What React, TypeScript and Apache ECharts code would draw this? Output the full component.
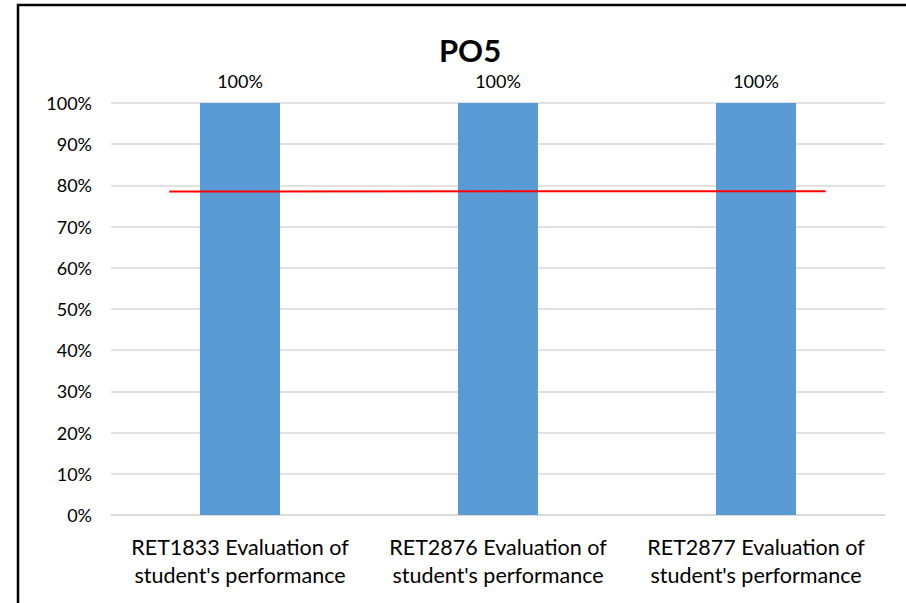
import React, { useEffect, useRef } from "react";
import * as echarts from "echarts";

const categories = [
  "RET1833 Evaluation of\nstudent's performance",
  "RET2876 Evaluation of\nstudent's performance",
  "RET2877 Evaluation of\nstudent's performance",
];
const barValues = [1, 1, 1];
const targetX = [0.226, 2.77];
const targetY = [0.785, 0.786];
const titleText = "PO5";

const FONT = "Lato";

export default function App() {
  const ref = useRef<HTMLDivElement>(null);
  useEffect(() => {
    if (!ref.current) return;
    const chart = echarts.init(ref.current, null, { renderer: "svg" });
    chart.setOption({
      animation: false,
      backgroundColor: "#fff",
      title: {
        text: titleText,
        left: 465,
        top: 29,
        textAlign: "center",
        textStyle: { fontFamily: FONT, fontWeight: "bold", fontSize: 31, color: "#000" },
      },
      grid: { left: 111, right: 21, top: 103, bottom: 88, containLabel: false },
      xAxis: [
        {
          type: "category",
          data: categories,
          axisTick: { show: false },
          axisLine: { lineStyle: { color: "#D9D9D9", width: 1.5 } },
          axisLabel: {
            margin: 18,
            color: "#000",
            fontFamily: FONT,
            fontSize: 21.5,
            lineHeight: 28,
            interval: 0,
          },
        },
        { type: "value", min: 0, max: 3, show: false },
      ],
      yAxis: {
        type: "value",
        min: 0,
        max: 1,
        interval: 0.1,
        axisLine: { show: false },
        axisTick: { show: false },
        splitLine: { lineStyle: { color: "#D9D9D9", width: 1.5 } },
        axisLabel: {
          margin: 19,
          color: "#000",
          fontFamily: FONT,
          fontSize: 18,
          formatter: (v: number) => Math.round(v * 100) + "%",
        },
      },
      series: [
        {
          type: "bar",
          data: barValues,
          barWidth: 80,
          itemStyle: { color: "#5B9BD5" },
          label: {
            show: true,
            position: "top",
            distance: 13,
            color: "#000",
            fontFamily: FONT,
            fontSize: 18,
            formatter: (p: any) => Math.round(p.value * 100) + "%",
          },
          z: 2,
        },
        {
          type: "line",
          xAxisIndex: 1,
          data: targetX.map((x, i) => [x, targetY[i]]),
          symbol: "none",
          lineStyle: { color: "#FF0000", width: 2 },
          z: 3,
        },
      ],
      graphic: [
        {
          type: "rect",
          shape: { x: 18, y: 5, width: 1000, height: 1000 },
          style: { fill: "none", stroke: "#000", lineWidth: 2.5 },
          silent: true,
        },
      ],
    });
    return () => chart.dispose();
  }, []);
  return (
    <div
      ref={ref}
      style={{ position: "fixed", left: 0, top: 0, width: 906, height: 603 }}
    />
  );
}
